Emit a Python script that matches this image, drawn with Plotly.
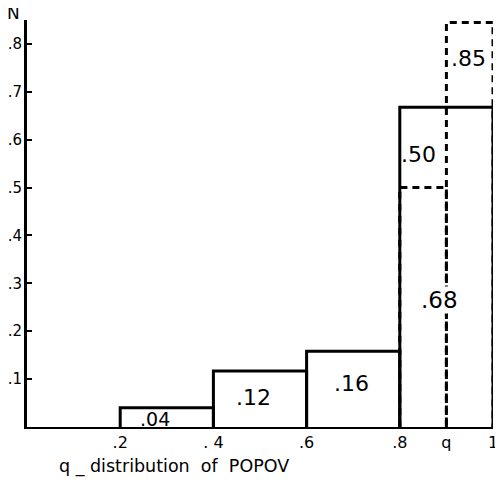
import plotly.graph_objects as go

# Solid histogram (q-distribution)
solid_left = [0.2, 0.4, 0.6, 0.8]
solid_right = [0.4, 0.6, 0.8, 1.0]
solid_height = [0.04, 0.117, 0.158, 0.668]
solid_labels = [".04", ".12", ".16", ".68"]
solid_label_x = [0.274, 0.486, 0.697, 0.886]
solid_label_y = [0.016, 0.062, 0.09, 0.265]
solid_label_size = [19, 22, 22, 23]

# Dashed histogram
dash_left = [0.8, 0.9]
dash_right = [0.9, 1.0]
dash_height = [0.50, 0.845]
dash_labels = [".50", ".85"]
dash_label_x = [0.84, 0.948]
dash_label_y = [0.57, 0.77]

y_tickvals = [0.1, 0.2, 0.3, 0.4, 0.5, 0.6, 0.7, 0.8]
y_ticktext = [".1", ".2", ".3", ".4", ".5", ".6", ".7", ".8"]
x_tickvals = [0.2, 0.4, 0.6, 0.8, 0.9, 1.0]
x_ticktext = [".2", ". 4", ".6", ".8", "q", "1"]

FONT = "DejaVu Sans"
PW = 466  # plot width in px

def rect_path(lefts, rights, heights):
    xs, ys = [], []
    for a, b, h in zip(lefts, rights, heights):
        xs += [a, a, b, b, None]
        ys += [0, h, h, 0, None]
    return xs, ys

fig = go.Figure()

sx, sy = rect_path(solid_left, solid_right, solid_height)
fig.add_trace(go.Scatter(x=sx, y=sy, mode="lines", cliponaxis=False,
                         line=dict(color="black", width=3), hoverinfo="skip"))

dx, dy = rect_path(dash_left, dash_right, dash_height)
fig.add_trace(go.Scatter(x=dx, y=dy, mode="lines", cliponaxis=False,
                         line=dict(color="black", width=3, dash="7px,5px"), hoverinfo="skip"))

for t, x, y, s in zip(solid_labels, solid_label_x, solid_label_y, solid_label_size):
    fig.add_annotation(text=t, x=x, y=y, xref="x", yref="y", showarrow=False,
                       xanchor="center", yanchor="middle",
                       bgcolor="white" if t == ".68" else "rgba(0,0,0,0)",
                       borderpad=0,
                       font=dict(family=FONT, size=s, color="black"))
for t, x, y in zip(dash_labels, dash_label_x, dash_label_y):
    fig.add_annotation(text=t, x=x, y=y, xref="x", yref="y", showarrow=False,
                       xanchor="center", yanchor="middle",
                       font=dict(family=FONT, size=22, color="black"))

fig.add_annotation(text="N", xref="paper", yref="paper", x=(13 - 27) / PW, y=1 + 7 / 407,
                   xanchor="center", yanchor="middle", showarrow=False,
                   font=dict(family=FONT, size=17, color="black"))
fig.add_annotation(text="q _ distribution  of  POPOV", xref="paper", yref="paper",
                   x=(57 - 27) / PW, y=-(467 - 427) / 407, xanchor="left", yanchor="middle",
                   showarrow=False, font=dict(family=FONT, size=17.5, color="black"))

# page body adds an 8px offset; figure sized so plot area lands where the reference has it
fig.update_layout(
    width=495, height=472,
    margin=dict(l=19, r=495 - 19 - PW, t=12, b=53),
    plot_bgcolor="white", paper_bgcolor="white",
    showlegend=False,
    xaxis=dict(range=[0, 1], showgrid=False, zeroline=False, showline=True, automargin=False,
               linecolor="black", linewidth=2, tickvals=x_tickvals, ticktext=x_ticktext,
               ticks="", tickfont=dict(family=FONT, size=16, color="black")),
    yaxis=dict(range=[0, 0.85], showgrid=False, zeroline=False, showline=True, automargin=False,
               linecolor="black", linewidth=3, tickvals=y_tickvals, ticktext=y_ticktext,
               ticks="inside", ticklen=5, tickwidth=2, tickcolor="black",
               ticklabelstandoff=-1,
               tickfont=dict(family=FONT, size=15, color="black")),
)

fig.write_html("out.html")
